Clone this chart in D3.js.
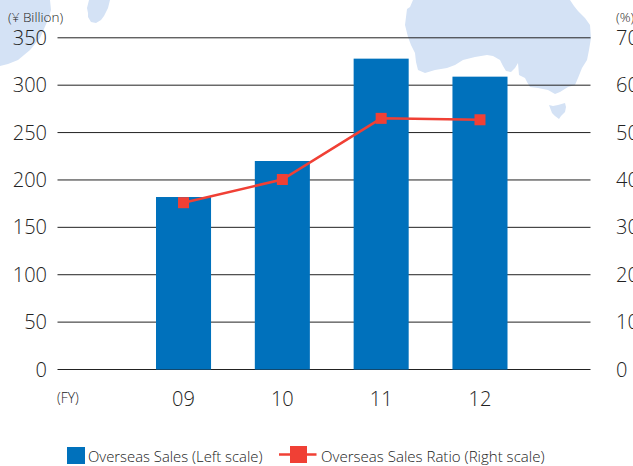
<!DOCTYPE html>
<html><head><meta charset="utf-8">
<script src="https://cdn.jsdelivr.net/npm/d3@7/dist/d3.min.js"></script>
<style>html,body{margin:0;padding:0;background:#fff;overflow:hidden}svg{display:block}text{font-family:"Open Sans","Noto Sans",sans-serif;font-weight:300;fill:#222}</style>
</head><body><svg id="c" width="633" height="466"></svg>
<script>
const categories=["09","10","11","12"];
const overseasSales=[182,220,328,309];
const overseasRatio=[35.2,40.1,53,52.7];
const leftTicks=[0,50,100,150,200,250,300,350];
const rightTicks=[0,10,20,30,40,50,60,70];
const svg=d3.select("#c");
const map="#d4e2f5";
const land=[
 "M407,9L410,7L413,0L570,0L574,6L578,11L585,18L590,25L591,38L589,50L587,60L582,68L578,78L575,85L568,87L560,92L555,94L548,90L538,88L530,87L527,82L525,78L519,75L518,63L515,68L511,72L506,71L503,66L500,60L493,56L487,55L475,57L463,60L455,65L447,68L435,70L425,73L418,70L416,62L415,53L411,45L408,37L405,25Z",
 "M549,105L553,106L558,105L565,103L566,107L565,112L561,116L559,119L555,116L552,113Z",
 "M0,0L50,0L51,10L47,22L40,38L30,50L18,60L8,64L0,66Z",
 "M89,0L110,0L108,8L104,16L101,20L96,23L91,22L88,17L88,13L87,8Z"];
svg.selectAll("path.land").data(land).join("path").attr("class","land").attr("d",d=>d).attr("fill",map);
const y=d3.scaleLinear().domain([0,350]).range([369.5,37.8]);
const yr=d3.scaleLinear().domain([0,70]).range([369.5,37.8]);
const x=d3.scaleBand().domain(categories).range([156,507.5]).paddingInner(0.443).paddingOuter(0);
svg.selectAll("line.g").data(leftTicks).join("line").attr("class","g")
 .attr("x1",57.5).attr("x2",590.5).attr("y1",d=>y(d)).attr("y2",d=>y(d)).attr("stroke","#222").attr("stroke-width",1);
svg.selectAll("rect.b").data(overseasSales).join("rect").attr("class","b")
 .attr("x",(d,i)=>x(categories[i])).attr("width",x.bandwidth()).attr("y",d=>y(d)).attr("height",d=>y(0)-y(d)).attr("fill","#0071bc");
const cx=i=>x(categories[i])+x.bandwidth()/2;
svg.append("path").datum(overseasRatio).attr("fill","none").attr("stroke","#f04035").attr("stroke-width",2.5)
 .attr("d",d3.line().x((d,i)=>cx(i)).y(d=>yr(d)));
svg.selectAll("rect.m").data(overseasRatio).join("rect").attr("class","m")
 .attr("x",(d,i)=>cx(i)-5.5).attr("y",d=>yr(d)-5.5).attr("width",11).attr("height",11).attr("fill","#f04035");
svg.selectAll("text.l").data(leftTicks).join("text").attr("class","l").attr("x",47).attr("y",d=>y(d)+7).attr("text-anchor","end").attr("font-size",20).text(d=>d);
svg.selectAll("text.r").data(rightTicks).join("text").attr("class","r").attr("x",616).attr("y",d=>yr(d)+7).attr("font-size",20).text(d=>d);
svg.selectAll("text.c").data(categories).join("text").attr("class","c").attr("x",d=>x(d)+x.bandwidth()/2).attr("y",405.5).attr("text-anchor","middle").attr("font-size",20).text(d=>d);
const small=(t,px,py,s)=>svg.append("text").attr("x",px).attr("y",py).attr("font-size",s).text(t);
small("(¥ Billion)",8,22,13.5);
small("(%)",616,22,13.5);
small("(FY)",57,402.5,13.8);
svg.append("rect").attr("x",67).attr("y",447).attr("width",18).attr("height",17).attr("fill","#0071bc");
small("Overseas Sales (Left scale)",88,462,14.85);
svg.append("line").attr("x1",279).attr("x2",316.5).attr("y1",454.5).attr("y2",454.5).attr("stroke","#f04035").attr("stroke-width",2.5);
svg.append("rect").attr("x",290).attr("y",446).attr("width",17).attr("height",17).attr("fill","#f04035");
small("Overseas Sales Ratio (Right scale)",321,462,15.05);
</script></body></html>
